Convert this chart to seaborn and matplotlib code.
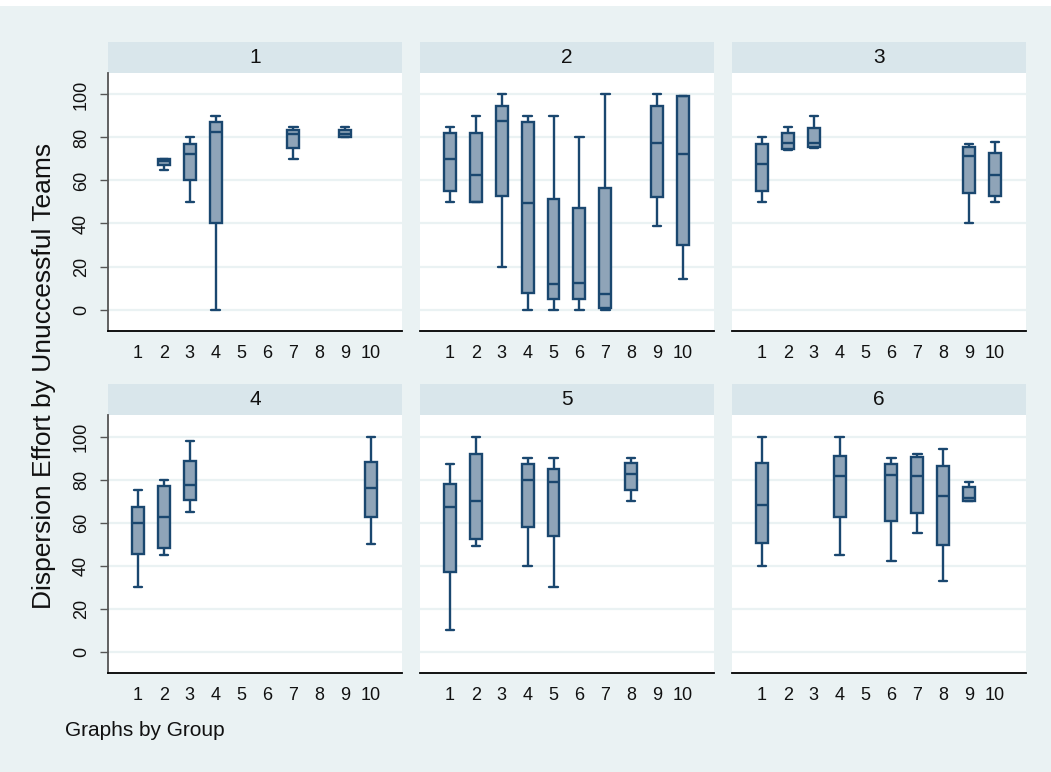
import matplotlib
matplotlib.use("Agg")
import matplotlib.pyplot as plt
import seaborn as sns
import pandas as pd
from matplotlib.patches import Rectangle

# five-number summaries (adjacent values, quartiles, median)
group = [1] * 5 + [2] * 9 + [3] * 5 + [4] * 4 + [5] * 5 + [6] * 6
pos = [2, 3, 4, 7, 9,
       1, 2, 3, 4, 5, 6, 7, 9, 10,
       1, 2, 3, 9, 10,
       1, 2, 3, 10,
       1, 2, 4, 5, 8,
       1, 4, 6, 7, 8, 9]
lo = [65, 50, 0, 70, 80,
      50, 50, 20, 0, 0, 0, 0, 39, 14,
      50, 74, 75, 40, 50,
      30, 45, 65, 50,
      10, 49, 40, 30, 70,
      40, 45, 42, 55, 33, 70]
q1 = [67, 60, 40, 75, 80,
      55, 50, 53, 7.5, 5, 5, 0.5, 52.5, 30,
      55, 74.5, 75.5, 54, 53,
      45.5, 48, 70.5, 62.5,
      37, 52.5, 58, 53.5, 75,
      50.5, 62.5, 60.5, 64.5, 49.5, 70]
med = [69, 72.5, 82.5, 81.5, 81.5,
       70, 62.5, 87.5, 49.5, 12, 12.5, 7, 77.5, 72.5,
       67.5, 77.5, 77.5, 71.5, 62.5,
       60, 62.5, 77.5, 76,
       67, 70, 80, 79, 82.5,
       68, 81.5, 82, 81.5, 72.5, 71.5]
q3 = [70, 77, 87, 83.5, 83.5,
      82, 82, 94.5, 87, 51.5, 47, 56.5, 94.5, 99.5,
      77, 82, 84.5, 75.5, 73,
      67, 77, 88.5, 88,
      78, 92, 87, 85, 87.5,
      87.5, 91, 87, 90.5, 86.5, 76.5]
hi = [70, 80, 90, 85, 85,
      85, 90, 100, 90, 90, 80, 100, 100, 99.5,
      80, 85, 90, 77, 78,
      75, 80, 98, 100,
      87, 100, 90, 90, 90,
      100, 100, 90, 92, 94, 79]
categories = list(range(1, 11))
yticks = [0, 20, 40, 60, 80, 100]

rows = []
for g_, p, a, b, c, d, e in zip(group, pos, lo, q1, med, q3, hi):
    for v in (a, b, c, d, e):
        rows.append({"Group": g_, "pos": p, "effort": v})
df = pd.DataFrame(rows)

BG = "#EAF2F3"
STRIP = "#D9E6EB"
NAVY = "#1A476F"
FILL = "#8FA4B8"

sns.set_theme(style="white")
plt.rcParams["font.family"] = ["Liberation Sans", "DejaVu Sans"]

g = sns.catplot(data=df, x="pos", y="effort", col="Group", col_wrap=3, kind="box",
                order=categories, width=0.46, color=FILL, saturation=1,
                linecolor=NAVY, linewidth=1.7, capwidths=0.33,
                height=3, aspect=1.1, sharey=True)
fig = g.figure
fig.set_size_inches(10.51, 7.72)
W, H = 1051, 772
fig.patch.set_facecolor("white")
fig.patches.append(Rectangle((0, 0), 1, 1 - 6 / H, transform=fig.transFigure,
                             facecolor=BG, edgecolor="none", zorder=-10))

lefts = [108, 420, 732]
tops = [73, 415]
pw, ph = 294, 258
strip_h = 31

for i, ax in enumerate(g.axes.flat):
    r, c = divmod(i, 3)
    ax.set_position([lefts[c] / W, 1 - (tops[r] + ph) / H, pw / W, ph / H])
    ax.set_facecolor("white")
    ax.set_ylim(-10, 110)
    ax.set_xlim(-1.16, 10.2)
    ax.set_yticks(yticks)
    ax.yaxis.grid(True, color=BG, linewidth=1.6)
    ax.set_axisbelow(True)
    ax.set_title("")
    ax.set_xlabel("")
    ax.set_ylabel("")
    ax.set_xticks(range(10))
    ax.set_xticklabels([str(v) for v in categories], fontsize=13, color="#111111")
    ax.tick_params(axis="x", length=0, pad=10, labelbottom=True)
    ax.spines["top"].set_visible(False)
    ax.spines["right"].set_visible(False)
    ax.spines["bottom"].set_color("black")
    ax.spines["bottom"].set_linewidth(1.3)
    if c == 0:
        ax.spines["left"].set_visible(True)
        ax.spines["left"].set_color("#555555")
        ax.spines["left"].set_linewidth(1.3)
        ax.set_yticklabels([str(v) for v in yticks], fontsize=13, rotation=90,
                           va="center", color="#111111")
        ax.tick_params(axis="y", left=True, labelleft=True, length=6, width=1,
                       color="#555555", pad=7)
    else:
        ax.spines["left"].set_visible(False)
        ax.tick_params(axis="y", left=False, labelleft=False)
    ax.add_patch(Rectangle((0, 1), 1, strip_h / ph, transform=ax.transAxes,
                           facecolor=STRIP, edgecolor="none", clip_on=False))
    ax.text(0.5, 1 + strip_h / ph / 2, str(i + 1), transform=ax.transAxes,
            ha="center", va="center", fontsize=15, color="#111111")

fig.text(44.5 / W, 1 - 376 / H, "Dispersion Effort by Unuccessful Teams",
         rotation=90, ha="center", va="center", fontsize=19, color="#111111")
fig.text(65 / W, 1 - 731 / H, "Graphs by Group", ha="left", va="center",
         fontsize=15, color="#111111")

fig.savefig("out.png", dpi=100, facecolor=fig.get_facecolor())
